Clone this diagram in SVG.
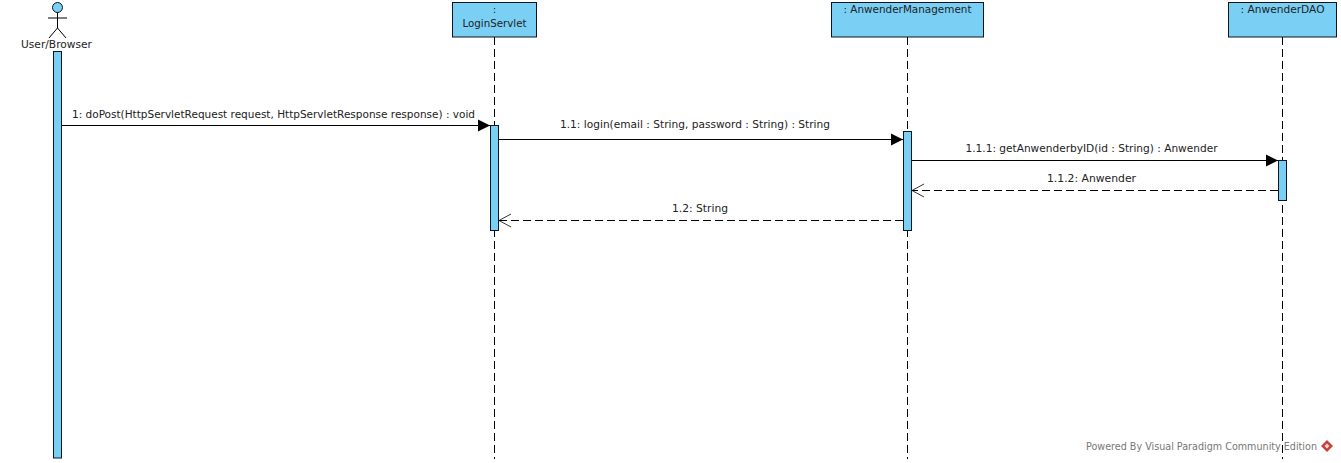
<svg xmlns="http://www.w3.org/2000/svg" width="1341" height="463" viewBox="0 0 1341 463">
<style>
text{font-family:"DejaVu Sans","Liberation Sans",sans-serif;font-size:10.5px;fill:#222;text-anchor:middle}
.box{fill:#7acff5;stroke:#0b1620;stroke-width:1}
.life{stroke:#000;stroke-width:1;stroke-dasharray:8 4;fill:none}
.msg{stroke:#000;stroke-width:1;fill:none}
.ret{stroke:#000;stroke-width:1;stroke-dasharray:8 4;fill:none}
.open{stroke:#000;stroke-width:.8;fill:none}
.wm{fill:#777;font-size:10.5px;text-anchor:start}
</style>
<defs>
<marker id="solid" markerUnits="userSpaceOnUse" markerWidth="14" markerHeight="14" refX="13" refY="7" orient="auto"><path d="M1 1L13 7L1 13Z" fill="#000"/></marker>
</defs>
<rect width="1341" height="463" fill="#fff"/>
<g id="lifelines">
<path class="life" d="M494.5 37V459"/>
<path class="life" d="M907.500 37V459"/>
<path class="life" d="M1282.500 37V459"/>
</g>
<g id="actor">
<circle class="box" cx="57.5" cy="7.5" r="5"/>
<path d="M57.5 12.5V28M48 18H67M57.5 28L49 38M57.5 28L66 38" fill="none" stroke="#000"/>
<text x="56.5" y="48" textLength="71" lengthAdjust="spacingAndGlyphs">User/Browser</text>
<rect class="box" x="53.5" y="51.5" width="8" height="406.5"/>
</g>
<g id="loginservlet">
<rect class="box" x="452.5" y="2.5" width="84" height="34.5"/>
<text x="494.5" y="13">:</text>
<text x="494.5" y="27" textLength="64" lengthAdjust="spacingAndGlyphs">LoginServlet</text>
<rect class="box" x="490.5" y="125.5" width="8" height="105"/>
</g>
<g id="anwendermanagement">
<rect class="box" x="831.5" y="2.5" width="152" height="34.5"/>
<text x="907.5" y="13" textLength="128" lengthAdjust="spacingAndGlyphs">: AnwenderManagement</text>
<rect class="box" x="903.5" y="131.5" width="8" height="99"/>
</g>
<g id="anwenderdao">
<rect class="box" x="1228.5" y="2.5" width="108" height="34.5"/>
<text x="1282.5" y="13" textLength="84" lengthAdjust="spacingAndGlyphs">: AnwenderDAO</text>
<rect class="box" x="1278.5" y="160.5" width="8" height="40"/>
</g>
<g id="connectors">
<path class="msg" d="M62 125.5H490" marker-end="url(#solid)"/>
<path class="msg" d="M499 139.5H903" marker-end="url(#solid)"/>
<path class="msg" d="M912 160.5H1278" marker-end="url(#solid)"/>
<path class="ret" d="M1278 190.5H912"/>
<path class="open" d="M924 184L912 190.5L924 197"/>
<path class="ret" d="M903 220.5H499"/>
<path class="open" d="M511 214L499 220.5L511 227"/>
<text x="273.5" y="118" textLength="403" lengthAdjust="spacingAndGlyphs">1: doPost(HttpServletRequest request, HttpServletResponse response) : void</text>
<text x="695" y="128" textLength="270" lengthAdjust="spacingAndGlyphs">1.1: login(email : String, password : String) : String</text>
<text x="1091.5" y="152" textLength="252" lengthAdjust="spacingAndGlyphs">1.1.1: getAnwenderbyID(id : String) : Anwender</text>
<text x="1091.5" y="182" textLength="89" lengthAdjust="spacingAndGlyphs">1.1.2: Anwender</text>
<text x="700" y="212" textLength="56" lengthAdjust="spacingAndGlyphs">1.2: String</text>
</g>
<g id="watermark">
<text class="wm" x="1086" y="450" textLength="231" lengthAdjust="spacingAndGlyphs">Powered By Visual Paradigm Community Edition</text>
<path d="M1327 440L1333 446L1327 452L1321 446Z" fill="#c8403a"/>
<path d="M1327 443.500L1329.500 446L1327 448.500L1324.500 446Z" fill="#f3d5d0"/>
</g>
</svg>
